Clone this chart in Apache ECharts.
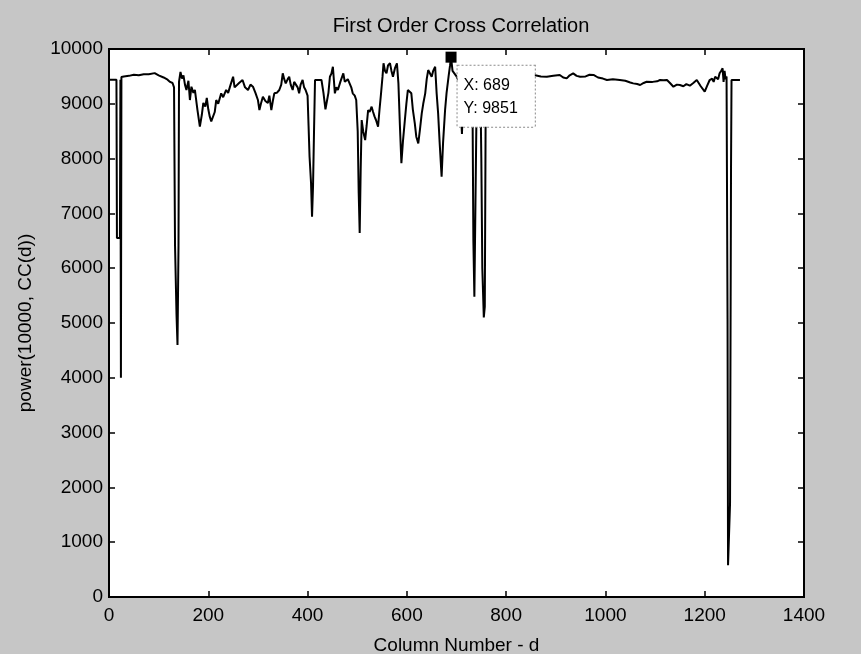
<!DOCTYPE html>
<html>
<head>
<meta charset="utf-8">
<script src="https://cdn.jsdelivr.net/npm/echarts@6/dist/echarts.min.js"></script>
<style>
  html, body { margin: 0; padding: 0; background: #c6c6c6; }
  #chart { width: 861px; height: 654px; }
</style>
</head>
<body>
<div id="chart"></div>
<script>
// Column number d
const colX = [
  1, 15, 16, 22, 23, 24, 25, 30, 40, 50, 60, 70, 80, 92, 100, 110, 118, 123, 128, 131,
  133, 136, 138, 140, 141, 144, 147, 150, 153, 156, 160, 163, 166, 170, 173, 178, 183, 187, 190, 194,
  197, 200, 203, 206, 210, 213, 216, 220, 226, 230, 236, 240, 245, 250, 253, 256, 262, 269, 274, 280,
  285, 290, 295, 300, 303, 306, 310, 315, 320, 323, 327, 330, 333, 338, 343, 347, 350, 353, 356, 360,
  363, 366, 370, 373, 376, 380, 383, 386, 390, 393, 396, 400, 402, 404, 407, 409, 411, 413, 415, 428,
  432, 436, 439, 442, 445, 448, 451, 455, 458, 461, 466, 472, 475, 478, 481, 485, 488, 491, 495, 498,
  501, 503, 505, 507, 509, 512, 516, 519, 522, 525, 529, 532, 535, 538, 542, 545, 548, 551, 553, 556,
  559, 562, 566, 569, 572, 576, 580, 583, 586, 589, 592, 596, 599, 602, 606, 609, 612, 616, 619, 623,
  626, 630, 633, 637, 640, 643, 646, 650, 653, 657, 660, 663, 666, 670, 673, 677, 680, 684, 687, 689,
  692, 696, 700, 705, 708, 711, 714, 720, 728, 732, 734, 736, 739, 741, 748, 750, 752, 755, 757, 759,
  765, 780, 800, 820, 840, 856, 870, 882, 895, 908, 915, 922, 928, 935, 942, 949, 960, 968, 976, 985,
  995, 1003, 1015, 1029, 1040, 1050, 1056, 1064, 1070, 1077, 1083, 1095, 1104, 1110, 1117, 1124, 1130, 1137, 1144, 1150,
  1157, 1163, 1170, 1177, 1184, 1192, 1200, 1205, 1210, 1215, 1218, 1221, 1224, 1227, 1230, 1233, 1236, 1238, 1240, 1242,
  1244, 1246, 1247, 1249, 1251, 1253, 1254, 1271
];

// power(10000, CC(d))
const ccPower = [
  9440, 9440, 6550, 6550, 9440, 4000, 9490, 9500, 9510, 9530, 9520, 9540, 9540, 9560, 9520, 9480, 9440, 9400, 9380, 9300,
  6420, 5150, 4600, 6400, 9400, 9580, 9460, 9520, 9350, 9252, 9420, 9069, 9312, 9200, 9252, 8900, 8582, 8800, 9015, 8950,
  9106, 8900, 8765, 8680, 8704, 8850, 9069, 9000, 9191, 9120, 9252, 9200, 9350, 9494, 9300, 9312, 9380, 9434, 9300, 9252,
  9350, 9312, 9200, 9069, 8887, 9000, 9130, 9050, 9015, 9150, 8887, 9050, 9191, 9200, 9252, 9350, 9556, 9450, 9373, 9450,
  9494, 9350, 9252, 9400, 9434, 9300, 9191, 9350, 9434, 9300, 9252, 9150, 8600, 8035, 7550, 6940, 7500, 8500, 9434, 9434,
  9200, 8900, 8887, 9200, 9494, 9550, 9677, 9191, 9300, 9252, 9400, 9556, 9400, 9373, 9450, 9434, 9300, 9191, 9150, 9069,
  8500, 7372, 6642, 7800, 8704, 8500, 8339, 8600, 8887, 8850, 8947, 8850, 8765, 8700, 8582, 8900, 9191, 9500, 9739, 9600,
  9556, 9700, 9739, 9600, 9494, 9650, 9739, 9373, 8600, 7917, 8300, 8704, 9000, 9252, 9250, 9191, 8900, 8643, 8400, 8278,
  8500, 8825, 9000, 9191, 9450, 9616, 9600, 9494, 9600, 9677, 9191, 8825, 8300, 7670, 8300, 8887, 9200, 9494, 9700, 9851,
  9600, 9550, 9500, 9400, 9000, 8450, 9300, 9500, 9500, 9400, 6500, 5480, 5500, 9400, 9400, 8010, 6000, 5100, 5300, 9400,
  9500, 9520, 9500, 9520, 9510, 9526, 9500, 9494, 9510, 9526, 9480, 9464, 9520, 9556, 9510, 9494, 9500, 9530, 9526, 9480,
  9460, 9434, 9450, 9434, 9420, 9390, 9373, 9360, 9343, 9380, 9403, 9400, 9410, 9434, 9430, 9434, 9380, 9312, 9350, 9343,
  9320, 9360, 9330, 9380, 9434, 9320, 9221, 9330, 9434, 9460, 9400, 9494, 9520, 9450, 9556, 9600, 9647, 9400, 9600, 9450,
  9500, 5070, 580, 580, 1700, 7850, 9434, 9434
];

// Data cursor
const tipX = 689;
const tipY = 9851;

const xTicks = { min: 0, max: 1400, interval: 200 };
const yTicks = { min: 0, max: 10000, interval: 1000 };

const FONT = '"Liberation Sans", Arial, sans-serif';

const points = colX.map((x, i) => [x, ccPower[i]]);

const chart = echarts.init(document.getElementById('chart'), null, { renderer: 'canvas' });

function tickStyle() {
  return { show: true, inside: true, length: 6, lineStyle: { color: '#000', width: 1.5 } };
}
function axisLineStyle() {
  return { show: true, onZero: false, lineStyle: { color: '#000', width: 2 } };
}
const plain = v => String(v);

chart.setOption({
  animation: false,
  backgroundColor: '#c6c6c6',
  title: {
    text: 'First Order Cross Correlation',
    left: 456,
    textAlign: 'center',
    top: 11,
    textStyle: { fontFamily: FONT, fontSize: 20, fontWeight: 'normal', color: '#000' }
  },
  grid: {
    left: 109, right: 57, top: 49, bottom: 57,
    outerBoundsMode: 'none',
    containLabel: false,
    show: true, backgroundColor: '#ffffff', borderColor: '#000', borderWidth: 2
  },
  xAxis: [
    {
      type: 'value', position: 'bottom', gridIndex: 0,
      min: xTicks.min, max: xTicks.max, interval: xTicks.interval,
      name: 'Column Number - d', nameLocation: 'middle', nameGap: 39,
      nameTextStyle: { fontFamily: FONT, fontSize: 19, color: '#000' },
      axisLine: axisLineStyle(), axisTick: tickStyle(), splitLine: { show: false },
      axisLabel: { fontFamily: FONT, fontSize: 19, color: '#000', margin: 9, formatter: plain }
    },
    {
      type: 'value', position: 'top', gridIndex: 0,
      min: xTicks.min, max: xTicks.max, interval: xTicks.interval,
      axisLine: axisLineStyle(), axisTick: tickStyle(), splitLine: { show: false },
      axisLabel: { show: false }
    }
  ],
  yAxis: [
    {
      type: 'value', position: 'left', gridIndex: 0,
      min: yTicks.min, max: yTicks.max, interval: yTicks.interval,
      name: 'power(10000, CC(d))', nameLocation: 'middle', nameGap: 74,
      nameTextStyle: { fontFamily: FONT, fontSize: 19, color: '#000' },
      axisLine: axisLineStyle(), axisTick: tickStyle(), splitLine: { show: false },
      axisLabel: { fontFamily: FONT, fontSize: 19, color: '#000', margin: 6, formatter: plain }
    },
    {
      type: 'value', position: 'right', gridIndex: 0,
      min: yTicks.min, max: yTicks.max, interval: yTicks.interval,
      axisLine: axisLineStyle(), axisTick: tickStyle(), splitLine: { show: false },
      axisLabel: { show: false }
    }
  ],
  series: [
    {
      type: 'line',
      xAxisIndex: 0, yAxisIndex: 0,
      data: points,
      showSymbol: false,
      symbol: 'none',
      lineStyle: { color: '#000', width: 2 },
      markPoint: {
        symbol: 'rect',
        symbolSize: 11,
        itemStyle: { color: '#000' },
        data: [
          {
            coord: [tipX, tipY],
            label: {
              show: true,
              formatter: 'X: ' + tipX + '\nY: ' + tipY,
              position: [12, 14],
              fontFamily: FONT,
              fontSize: 16,
              color: '#000',
              lineHeight: 23,
              backgroundColor: '#ffffff',
              borderColor: '#8a8a8a',
              borderWidth: 1,
              borderType: 'dotted',
              padding: [8, 17, 7, 6]
            }
          }
        ]
      }
    },
    {
      // binds the mirrored top/right axes so their ticks are drawn
      type: 'line',
      xAxisIndex: 1, yAxisIndex: 1,
      data: [],
      silent: true
    }
  ]
});
</script>
</body>
</html>
